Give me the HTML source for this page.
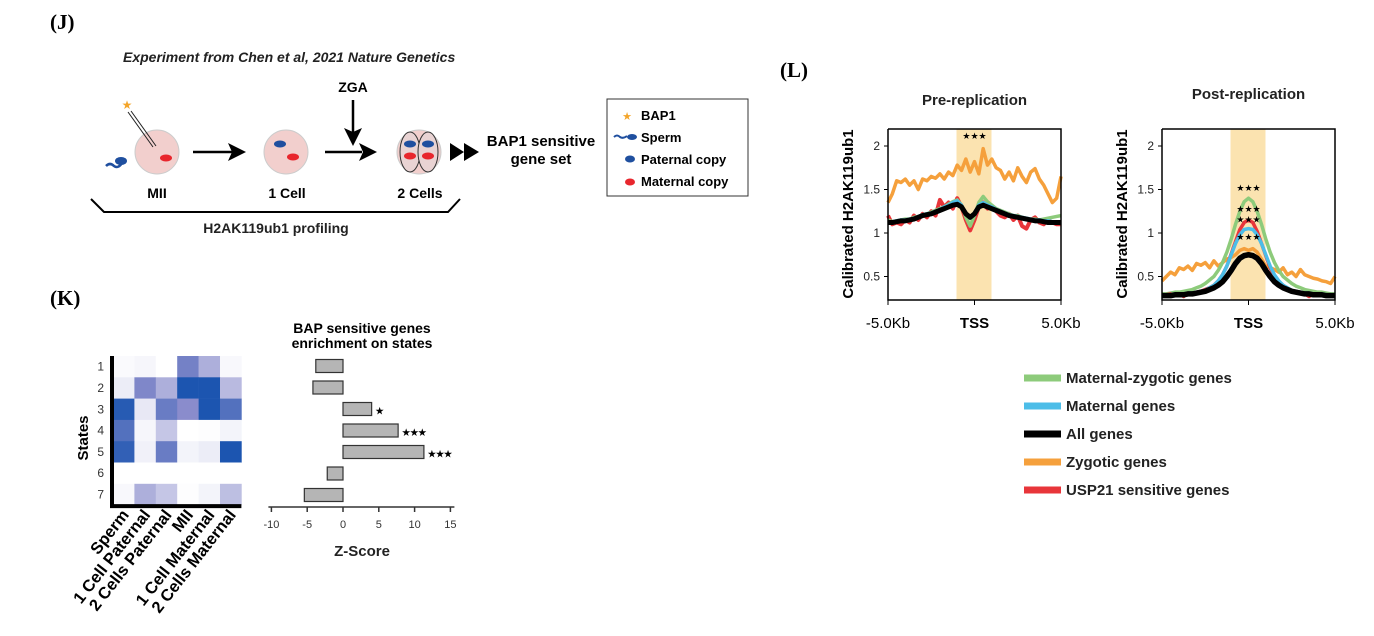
<!DOCTYPE html>
<html><head><meta charset="utf-8"><style>
body{margin:0;background:#fff;width:1374px;height:631px;overflow:hidden}
svg{font-family:"Liberation Sans",sans-serif}
.b{font-weight:bold}
</style></head><body>
<svg id="fig" width="1374" height="631" viewBox="0 0 1374 631" xmlns="http://www.w3.org/2000/svg">
<g>
<text x="50" y="29" font-family="Liberation Serif,serif" font-weight="bold" font-size="21">(J)</text>
<text x="123" y="62" font-size="14" font-style="italic" font-weight="bold" fill="#222">Experiment from Chen et al, 2021 Nature Genetics</text>
<circle cx="157" cy="152" r="22" fill="#f2cfcd" stroke="#ccc"/>
<ellipse cx="166" cy="158" rx="6" ry="3.5" fill="#e8262d"/>
<line x1="128" y1="112" x2="153" y2="147" stroke="#222"/><line x1="131" y1="111" x2="156" y2="146" stroke="#222"/>
<text x="127" y="109" font-size="12" fill="#f4a52a" text-anchor="middle">★</text>
<ellipse cx="121" cy="161" rx="6" ry="4" fill="#1f4f9f"/><path d="M106 166 q4 -4 8 0 q4 3 8 -3" stroke="#1f4f9f" stroke-width="2.5" fill="none"/>
<text x="157" y="198" font-size="14" class="b" text-anchor="middle">MII</text>
<circle cx="286" cy="152" r="22" fill="#f2cfcd" stroke="#ccc"/>
<ellipse cx="280" cy="144" rx="6" ry="3.5" fill="#1f4f9f"/><ellipse cx="293" cy="157" rx="6" ry="3.5" fill="#e8262d"/>
<text x="287" y="198" font-size="14" class="b" text-anchor="middle">1 Cell</text>
<circle cx="419" cy="152" r="22" fill="#f2cfcd" stroke="#ccc"/>
<ellipse cx="410" cy="152" rx="10" ry="20" fill="#e9d3d3" stroke="#333"/><ellipse cx="428" cy="152" rx="10" ry="20" fill="#e9d3d3" stroke="#333"/>
<ellipse cx="410" cy="144" rx="6" ry="3.5" fill="#1f4f9f"/><ellipse cx="428" cy="144" rx="6" ry="3.5" fill="#1f4f9f"/>
<ellipse cx="410" cy="156" rx="6" ry="3.5" fill="#e8262d"/><ellipse cx="428" cy="156" rx="6" ry="3.5" fill="#e8262d"/>
<text x="420" y="198" font-size="14" class="b" text-anchor="middle">2 Cells</text>
<line x1="193" y1="152" x2="232" y2="152" stroke="#000" stroke-width="2.5"/><path d="M246 152 L228 143 L232 152 L228 161Z"/>
<line x1="325" y1="152" x2="362" y2="152" stroke="#000" stroke-width="2.5"/><path d="M377 152 L359 143 L363 152 L359 161Z"/>
<text x="353" y="92" font-size="14" class="b" text-anchor="middle">ZGA</text>
<line x1="353" y1="100" x2="353" y2="132" stroke="#000" stroke-width="2.5"/><path d="M353 146 L344 128 L353 132 L362 128Z"/>
<path d="M450 143 L464 152 L450 161Z M464 143 L479 152 L464 161Z"/>
<path d="M91 199 L104 212 L448 212 L460 199" stroke="#000" stroke-width="2" fill="none"/>
<text x="276" y="233" font-size="14" class="b" text-anchor="middle" fill="#222">H2AK119ub1 profiling</text>
<text x="541" y="146" font-size="15" class="b" text-anchor="middle">BAP1 sensitive</text>
<text x="541" y="164" font-size="15" class="b" text-anchor="middle">gene set</text>
<g>
<rect x="607" y="99" width="141" height="97" fill="#fff" stroke="#333"/>
<text x="627" y="120" font-size="11" fill="#f4a52a" text-anchor="middle">★</text><text x="641" y="120" font-size="13" class="b">BAP1</text>
<ellipse cx="632" cy="137" rx="5" ry="3" fill="#1f4f9f"/><path d="M614 137 q3 -3 6 0 q3 2 7 -1" stroke="#1f4f9f" stroke-width="2" fill="none"/><text x="641" y="142" font-size="13" class="b">Sperm</text>
<ellipse cx="630" cy="159" rx="5" ry="3.5" fill="#1f4f9f"/><text x="641" y="164" font-size="13" class="b">Paternal copy</text>
<ellipse cx="630" cy="182" rx="5" ry="3.5" fill="#e8262d"/><text x="641" y="186" font-size="13" class="b">Maternal copy</text>
</g>
</g>

<g>
<text x="50" y="305" font-family="Liberation Serif,serif" font-weight="bold" font-size="21">(K)</text>
<g id="heat"></g>
<text transform="translate(88,438) rotate(-90)" font-size="15" class="b" text-anchor="middle">States</text>
<text x="362" y="333" font-size="14" class="b" text-anchor="middle">BAP sensitive genes</text>
<text x="362" y="348" font-size="14" class="b" text-anchor="middle">enrichment on states</text>
<g id="bars"></g>
<text x="362" y="556" font-size="15" class="b" text-anchor="middle" fill="#222">Z-Score</text>
</g>

<g>
<text x="780" y="77" font-family="Liberation Serif,serif" font-weight="bold" font-size="21">(L)</text>
<g id="pre"></g>
<g id="post"></g>
<g id="leg"></g>
</g>
</svg>
<script>
const NS="http://www.w3.org/2000/svg";
function mk(p,t,a,txt){const e=document.createElementNS(NS,t);for(const k in a)e.setAttribute(k,a[k]);if(txt!==undefined)e.textContent=txt;p.appendChild(e);return e;}

// ---- Heatmap data ----
const heatCols=["Sperm","1 Cell Paternal","2 Cells Paternal","MII","1 Cell Maternal","2 Cells Maternal"];
const heatRows=["1","2","3","4","5","6","7"];
const heatRow1=[0.02,0.04,0.0,0.6,0.35,0.03];
const heatRow2=[0.08,0.55,0.35,1.0,1.0,0.3];
const heatRow3=[0.95,0.1,0.65,0.5,1.0,0.75];
const heatRow4=[0.75,0.04,0.25,0.0,0.01,0.05];
const heatRow5=[0.9,0.06,0.65,0.05,0.08,1.0];
const heatRow6=[0,0,0,0,0,0];
const heatRow7=[0.03,0.35,0.25,0.01,0.05,0.28];
const heatVals=[heatRow1,heatRow2,heatRow3,heatRow4,heatRow5,heatRow6,heatRow7];

// ---- Bar data ----
const barStates=["1","2","3","4","5","6","7"];
const barZ=[-3.8,-4.2,4.0,7.7,11.3,-2.2,-5.4];
const barSig=["","","*","***","***","",""];
const zTicks=[-10,-5,0,5,10,15];

function heatColor(v){
  let c0=[255,255,255],c1=[138,140,204],c2=[28,85,176],a,b,t;
  if(v<0.5){a=c0;b=c1;t=v/0.5}else{a=c1;b=c2;t=(v-0.5)/0.5}
  return "rgb("+a.map((x,i)=>Math.round(x+(b[i]-x)*t)).join(",")+")";
}
(function(){
  const g=document.getElementById("heat");
  const x0=113,w=21.4,y0=356,h=21.3;
  heatVals.forEach((row,r)=>{row.forEach((v,c)=>{
    const el=mk(g,"rect",{x:x0+c*w,y:y0+r*h,width:w+0.3,height:h+0.3,fill:heatColor(v)});
    
    
  });
  const t=mk(g,"text",{x:104,y:y0+r*h+h/2+4,"font-size":12,"text-anchor":"end",fill:"#333"},heatRows[r]);
  
  
  });
  mk(g,"path",{d:`M${x0-1} ${y0} V${y0+7*h+1} H${x0+6*w}`,stroke:"#000","stroke-width":4,fill:"none"});
  heatCols.forEach((c,i)=>{
    const cx=x0+i*w+w/2+6,cy=y0+7*h+10;
    const t=mk(g,"text",{transform:`translate(${cx},${cy}) rotate(-52)`,"font-size":16.5,"font-weight":"bold","text-anchor":"end"},c);
    
    
  });
})();
(function(){
  const g=document.getElementById("bars");
  const xs=v=>343+v*7.16, yc=i=>366+i*21.5;
  barZ.forEach((v,i)=>{
    const a=Math.min(xs(0),xs(v)),b=Math.max(xs(0),xs(v));
    const r=mk(g,"rect",{x:a,y:yc(i)-6.5,width:b-a,height:13,fill:"#b5b5b5",stroke:"#333","stroke-width":1.2});
    
    
    if(barSig[i]){const t=mk(g,"text",{x:b+4,y:yc(i)+5,"font-size":9,"font-weight":"bold"},barSig[i].replace(/\*/g,"★"));
      
      }
  });
  mk(g,"line",{x1:xs(-10)-3,x2:xs(15)+4,y1:507,y2:507,stroke:"#333","stroke-width":1.5});
  zTicks.forEach(v=>{mk(g,"line",{x1:xs(v),x2:xs(v),y1:507,y2:512,stroke:"#333","stroke-width":1.5});
    const t=mk(g,"text",{x:xs(v),y:528,"font-size":11,"text-anchor":"middle",fill:"#333"},String(v));
    
    });
})();

// ---- Profile data (x from -5 to 5 kb, step 0.25) ----
const preOrange=[1.35,1.45,1.6,1.58,1.62,1.55,1.6,1.5,1.62,1.6,1.65,1.63,1.68,1.62,1.7,1.66,1.78,1.72,1.85,1.7,1.82,1.68,1.97,1.78,1.85,1.75,1.72,1.62,1.7,1.6,1.75,1.65,1.58,1.7,1.74,1.62,1.55,1.45,1.35,1.4,1.65];
const preRed=[1.2,1.1,1.12,1.1,1.15,1.12,1.2,1.15,1.22,1.18,1.25,1.2,1.38,1.3,1.35,1.28,1.4,1.3,1.15,1.03,1.15,1.3,1.35,1.28,1.3,1.25,1.2,1.18,1.22,1.15,1.2,1.08,1.05,1.15,1.18,1.12,1.1,1.15,1.12,1.1,1.1];
const preGreen=[1.15,1.13,1.14,1.15,1.16,1.16,1.18,1.19,1.21,1.22,1.24,1.26,1.28,1.3,1.33,1.36,1.38,1.32,1.18,1.08,1.2,1.35,1.42,1.36,1.32,1.28,1.26,1.24,1.22,1.2,1.2,1.18,1.17,1.16,1.16,1.15,1.16,1.17,1.18,1.19,1.2];
const preBlue=[1.13,1.13,1.14,1.15,1.15,1.16,1.17,1.19,1.21,1.22,1.23,1.25,1.27,1.3,1.32,1.35,1.37,1.32,1.22,1.17,1.23,1.32,1.35,1.32,1.3,1.27,1.25,1.23,1.21,1.2,1.19,1.18,1.17,1.16,1.15,1.15,1.14,1.14,1.13,1.13,1.13];
const preBlack=[1.12,1.12,1.13,1.14,1.14,1.15,1.16,1.18,1.2,1.21,1.22,1.24,1.26,1.28,1.3,1.32,1.33,1.3,1.22,1.18,1.22,1.3,1.32,1.3,1.28,1.26,1.24,1.22,1.2,1.19,1.18,1.17,1.16,1.15,1.14,1.14,1.13,1.12,1.12,1.12,1.12];
const postOrange=[0.45,0.5,0.55,0.52,0.6,0.58,0.62,0.57,0.65,0.63,0.66,0.6,0.68,0.62,0.66,0.7,0.72,0.75,0.8,0.82,0.8,0.82,0.78,0.7,0.62,0.6,0.58,0.55,0.6,0.52,0.55,0.5,0.58,0.52,0.5,0.48,0.47,0.45,0.44,0.42,0.5];
const postRed=[0.29,0.29,0.3,0.28,0.3,0.27,0.31,0.3,0.32,0.33,0.35,0.37,0.4,0.45,0.52,0.62,0.76,0.9,1.04,1.12,1.15,1.12,1.02,0.88,0.74,0.6,0.5,0.44,0.4,0.36,0.34,0.33,0.31,0.3,0.27,0.3,0.29,0.29,0.28,0.29,0.29];
const postGreen=[0.3,0.3,0.31,0.32,0.32,0.33,0.34,0.35,0.37,0.39,0.42,0.46,0.5,0.57,0.66,0.78,0.93,1.1,1.25,1.36,1.4,1.36,1.25,1.1,0.93,0.78,0.66,0.57,0.5,0.46,0.42,0.39,0.37,0.35,0.34,0.33,0.32,0.32,0.31,0.3,0.3];
const postBlue=[0.29,0.29,0.29,0.3,0.3,0.3,0.31,0.31,0.32,0.33,0.34,0.37,0.4,0.45,0.52,0.62,0.75,0.88,0.98,1.04,1.05,1.04,0.98,0.88,0.75,0.62,0.52,0.45,0.4,0.37,0.34,0.33,0.32,0.31,0.31,0.3,0.3,0.3,0.29,0.29,0.29];
const postBlack=[0.28,0.28,0.28,0.29,0.29,0.29,0.3,0.3,0.31,0.32,0.33,0.35,0.37,0.4,0.44,0.5,0.57,0.65,0.71,0.74,0.75,0.74,0.71,0.65,0.57,0.5,0.44,0.4,0.37,0.35,0.33,0.32,0.31,0.3,0.3,0.29,0.29,0.29,0.28,0.28,0.28];
const yTicks=[0.5,1,1.5,2];
const xLabels=["-5.0Kb","TSS","5.0Kb"];
const seriesNames=["Maternal-zygotic genes","Maternal genes","All genes","Zygotic genes","USP21 sensitive genes"];
const seriesColors={green:"#8dcb7b",blue:"#4cbde8",black:"#000",orange:"#f5a03c",red:"#e8353a"};

function profile(id,x0,x1,title,titleY,ser,stars){
  const g=document.getElementById(id);
  const xs=i=>x0+(x1-x0)*i/40, ys=v=>233-(v-1)*87;
  const c=(x0+x1)/2;
  mk(g,"rect",{x:c-18,y:129,width:35,height:171,fill:"#fbe3b0"});
  const tt=mk(g,"text",{x:c,y:titleY,"font-size":15,"font-weight":"bold","text-anchor":"middle",fill:"#222"},title);
  
  
  ser.forEach(s=>{
    const p=mk(g,"polyline",{points:s.d.map((v,i)=>xs(i)+","+ys(v)).join(" "),fill:"none",stroke:s.c,"stroke-width":s.w,"stroke-linejoin":"round"});
    
    
  });
  mk(g,"path",{d:`M${x0} 129 V300 H${x1} V129 H${x0}`,stroke:"#000","stroke-width":1.5,fill:"none"});
  yTicks.forEach(v=>{mk(g,"line",{x1:x0-4,x2:x0,y1:ys(v),y2:ys(v),stroke:"#000"});
    const t=mk(g,"text",{x:x0-8,y:ys(v)+4,"font-size":12,"text-anchor":"end",fill:"#222"},String(v));
    
    });
  [x0,c,x1].forEach((x,i)=>{mk(g,"line",{x1:x,x2:x,y1:300,y2:305,stroke:"#000"});
    const t=mk(g,"text",{x:x,y:328,"font-size":15,"font-weight":i==1?"bold":"normal","text-anchor":"middle"},xLabels[i]);
    
    });
  const yt=mk(g,"text",{transform:`translate(${x0-35},214) rotate(-90)`,"font-size":15,"font-weight":"bold","text-anchor":"middle"},"Calibrated H2AK119ub1");
  
  
  stars.forEach(v=>{const t=mk(g,"text",{x:c,y:ys(v),"font-size":9,"text-anchor":"middle"},"★★★");
    
    });
}
profile("pre",888,1061,"Pre-replication",105,[
  {d:preOrange,c:seriesColors.orange,w:3.5},{d:preRed,c:seriesColors.red,w:4},{d:preGreen,c:seriesColors.green,w:3.5},
  {d:preBlue,c:seriesColors.blue,w:3.5},{d:preBlack,c:seriesColors.black,w:5}],[2.08]);
profile("post",1162,1335,"Post-replication",99,[
  {d:postOrange,c:seriesColors.orange,w:3.5},{d:postGreen,c:seriesColors.green,w:3.5},{d:postRed,c:seriesColors.red,w:3.5},
  {d:postBlue,c:seriesColors.blue,w:3.5},{d:postBlack,c:seriesColors.black,w:5.5}],[1.48,1.24,1.12,0.92]);
(function(){
  const g=document.getElementById("leg");
  const cols=[seriesColors.green,seriesColors.blue,seriesColors.black,seriesColors.orange,seriesColors.red];
  seriesNames.forEach((n,i)=>{const y=378+i*28;
    mk(g,"rect",{x:1024,y:y-3.5,width:37,height:7,fill:cols[i]});
    const t=mk(g,"text",{x:1066,y:y+5,"font-size":15,"font-weight":"bold","fill":"#222"},n);
    
    });
})();
</script>
</body></html>
